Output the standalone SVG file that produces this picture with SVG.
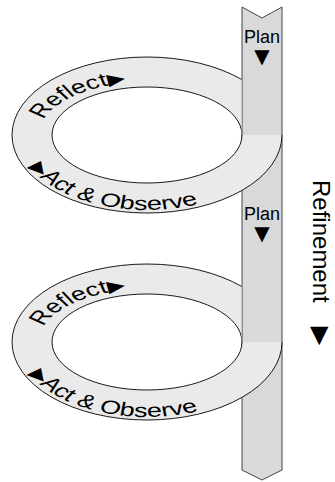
<svg xmlns="http://www.w3.org/2000/svg" width="335" height="482" viewBox="0 0 335 482">
<defs>
<style>
.ring{fill:#eaeaea;stroke:#000;stroke-width:0.9;fill-rule:evenodd}
.lbl{font-family:"Liberation Sans",Arial,sans-serif;font-size:27px;fill:#000}
.tri{font-family:"DejaVu Sans",sans-serif;font-size:23px}
.plan{font-family:"Liberation Sans",Arial,sans-serif;font-size:18px;fill:#000;text-anchor:middle}
.ptri{font-family:"DejaVu Sans",sans-serif;font-size:20px;fill:#000;text-anchor:middle}
.bar{fill:#d9d9d9;stroke:#444;stroke-width:1}
.side{font-family:"Liberation Sans",Arial,sans-serif;font-size:24px;fill:#000}
</style>
<path id="pr" d="M -103.3 -22.1 A 108 75.7 0 0 1 54 -65.6"/>
<path id="pa" d="M -117.8 45.3 A 130 107.1 0 0 0 99.6 68.8"/>
<path id="ringshape" d="M-135 0A135 78 0 1 0 135 0A135 78 0 1 0 -135 0Z M-95 0A95 48 0 1 0 95 0A95 48 0 1 0 -95 0Z"/>
<clipPath id="c1"><path clip-rule="evenodd" d="M0 0H335V482H0Z M241.5 0V135H284V0Z"/></clipPath>
<clipPath id="c2"><path clip-rule="evenodd" d="M0 0H335V482H0Z M241.5 0V342H284V0Z"/></clipPath>
</defs>

<g id="bar">
<polygon class="bar" points="242,7 262,18 282,7 282,470 262,480 242,470"/>
<text class="plan" x="262" y="43">Plan</text>
<text class="ptri" x="262" y="63">▼</text>
<text class="plan" x="262" y="220">Plan</text>
<text class="ptri" x="262" y="240">▼</text>
</g>

<g id="loop1" clip-path="url(#c1)">
<use href="#ringshape" class="ring" transform="translate(147,135)"/>
<g transform="translate(147,135) scale(1,0.7)">
<text class="lbl"><textPath href="#pr">Reflect<tspan class="tri">▶</tspan></textPath></text>
<text class="lbl"><textPath href="#pa"><tspan class="tri">▶</tspan>Act &amp; Observe</textPath></text>
</g>
</g>

<g id="loop2" clip-path="url(#c2)">
<use href="#ringshape" class="ring" transform="translate(147,342)"/>
<g transform="translate(147,342) scale(1,0.7)">
<text class="lbl"><textPath href="#pr">Reflect<tspan class="tri">▶</tspan></textPath></text>
<text class="lbl"><textPath href="#pa"><tspan class="tri">▶</tspan>Act &amp; Observe</textPath></text>
</g>
</g>

<g id="refinement">
<text class="side" transform="translate(313,180) rotate(90)">Refinement<tspan font-family="DejaVu Sans, sans-serif" font-size="24" dx="24">▶</tspan></text>
</g>
</svg>
